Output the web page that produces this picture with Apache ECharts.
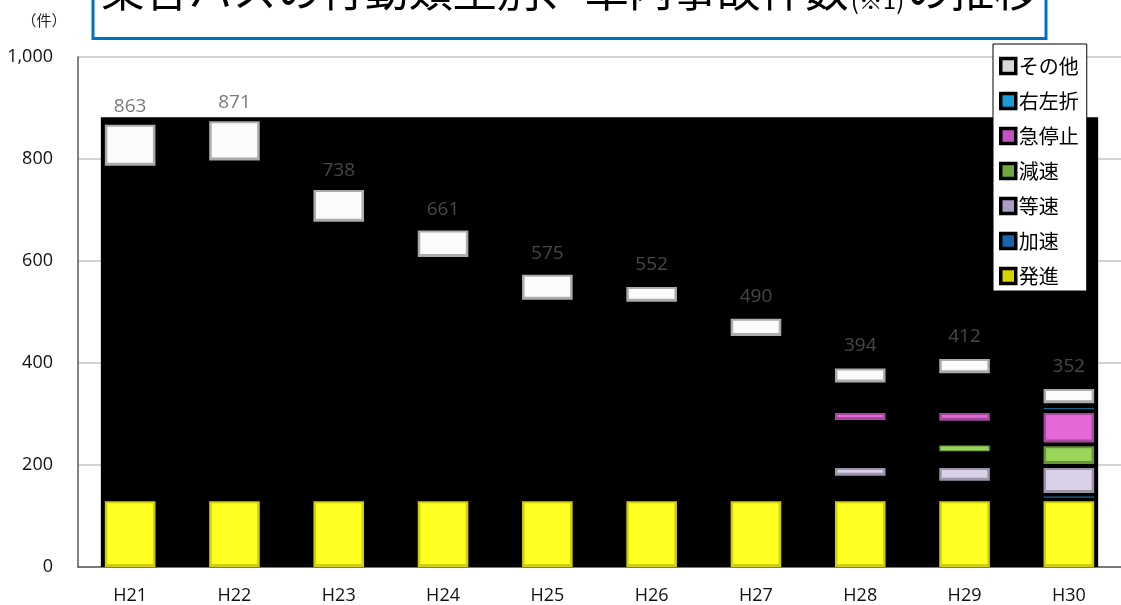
<!DOCTYPE html>
<html>
<head>
<meta charset="utf-8">
<script src="https://cdn.jsdelivr.net/npm/echarts@6/dist/echarts.min.js"></script>
<style>
html,body{margin:0;padding:0;background:#fff;}
#chart{width:1121px;height:605px;}
</style>
</head>
<body>
<div id="chart"></div>
<script>
// ---- data ----
const categories = ['H21','H22','H23','H24','H25','H26','H27','H28','H29','H30'];
const totals = [863, 871, 738, 661, 575, 552, 490, 394, 412, 352];
const yTicks = [0, 200, 400, 600, 800, 1000];
// visible extent [low, high] of each block (in 件), per category; null = not shown
const hasshin   = [[0,129],[0,129],[0,129],[0,129],[0,129],[0,129],[0,129],[0,129],[0,129],[0,129]];
const kasoku    = [null,null,null,null,null,null,null,null,null,[135.5,138.5]];
const tousoku   = [null,null,null,null,null,null,null,[179,194],[169,194],[145,194]];
const gensoku   = [null,null,null,null,null,null,null,null,[227,238],[202,237]];
const kyuteishi = [null,null,null,null,null,null,null,[288,302],[287,302],[244,302]];
const usasetsu  = [null,null,null,null,null,null,null,null,null,[309.5,312]];
const sonota    = [[787,867],[797,874],[677,739],[608,660],[524,573],[520,549],[453,487],[362,389],[380,408],[321,349]];
const panelTop = 882; // top of the dark panel behind the bars

// ---- styling ----
const seriesDefs = [
  {name:'発進',   data:hasshin,   fill:'#FFFF22', edge:'#CFCF10', icon:'#D4D400'},
  {name:'加速',   data:kasoku,    fill:'#1B5C8C', edge:'#17476A', icon:'#1565B0'},
  {name:'等速',   data:tousoku,   fill:'#DAD1E9', edge:'#9C94A8', icon:'#A99BC4'},
  {name:'減速',   data:gensoku,   fill:'#99D45B', edge:'#66923A', icon:'#6FA83E'},
  {name:'急停止', data:kyuteishi, fill:'#E468D8', edge:'#A44A9C', icon:'#C452C0'},
  {name:'右左折', data:usasetsu,  fill:'#1F7FA8', edge:'#1A6488', icon:'#1A9CD8'},
  {name:'その他', data:sonota,    fill:'#FBFBFB', edge:'#ABABAB', icon:'#D8D8D8'}
];

function boxRenderer(fill, edge) {
  return function (params, api) {
    const x = api.value(0);
    const p0 = api.coord([x, api.value(1)]);
    const p1 = api.coord([x, api.value(2)]);
    const w = api.size([1, 0])[0] * 0.485;
    const left = p0[0] - w / 2;
    const top = p1[1];
    const h = p0[1] - p1[1];
    const children = [{type:'rect', shape:{x:left, y:top, width:w, height:h}, style:{fill:edge}}];
    if (h > 6) {
      children.push({type:'rect', shape:{x:left + 2.5, y:top + 2, width:w - 5, height:h - 5}, style:{fill:fill}});
    } else if (h > 2.5) {
      children.push({type:'rect', shape:{x:left + 1.5, y:top + 0.8, width:w - 3, height:h - 1.8}, style:{fill:fill}});
    }
    return {type:'group', children:children};
  };
}

const series = [];
// dark panel spanning from first to last category
series.push({
  type:'custom', name:'panel', z:1, silent:true,
  data:[[0, categories.length - 1, 0, panelTop]],
  encode:{x:[0,1], y:[2,3]},
  renderItem:function (params, api) {
    const a = api.coord([api.value(0), api.value(2)]);
    const b = api.coord([api.value(1), api.value(3)]);
    const half = api.size([1, 0])[0] * 0.485 / 2 + 4;
    return {type:'rect', shape:{x:a[0] - half, y:b[1], width:(b[0] - a[0]) + 2 * half, height:a[1] - b[1]}, style:{fill:'#000'}};
  }
});
seriesDefs.forEach(function (d) {
  const rows = [];
  d.data.forEach(function (r, i) { if (r) rows.push([i, r[0], r[1]]); });
  series.push({
    type:'custom', name:d.name, z:3, silent:true,
    itemStyle:{color:d.icon},
    data:rows,
    encode:{x:0, y:[1,2]},
    renderItem:boxRenderer(d.fill, d.edge)
  });
});
// total labels
series.push({
  type:'scatter', name:'合計', z:5, silent:true,
  data:totals, symbolSize:0,
  label:{show:true, position:'top', distance:11, color:'#595959', fontSize:19, fontFamily:'Open Sans'}
});

const legendOrder = ['その他','右左折','急停止','減速','等速','加速','発進'];

const chart = echarts.init(document.getElementById('chart'), null, {renderer:'canvas'});
chart.setOption({
  animation:false,
  backgroundColor:'#fff',
  grid:{left:78, top:57, width:1051, height:511.5, containLabel:false},
  xAxis:{
    type:'category', data:categories, boundaryGap:true,
    axisLine:{show:true, lineStyle:{color:'#595959', width:1.5}},
    axisTick:{show:false},
    axisLabel:{margin:20, fontSize:18, fontFamily:'Open Sans', color:'#111'},
    splitLine:{show:false}
  },
  yAxis:{
    type:'value', min:yTicks[0], max:yTicks[yTicks.length - 1], interval:yTicks[1] - yTicks[0],
    axisLine:{show:true, lineStyle:{color:'#595959', width:1.5}},
    axisTick:{show:false},
    axisLabel:{margin:25, fontSize:18, fontFamily:'Open Sans', color:'#111',
      formatter:function (v) { return v.toLocaleString('en-US'); }},
    splitLine:{show:true, lineStyle:{color:'#D4D4D4', width:2}}
  },
  legend:{
    orient:'vertical', left:993, top:44,
    backgroundColor:'#fff', borderColor:'#000', borderWidth:1,
    padding:[12, 8, 5, 6],
    icon:'rect', itemWidth:15, itemHeight:15, itemGap:15,
    selectedMode:false,
    textStyle:{fontSize:20, lineHeight:20, fontFamily:'Noto Sans CJK JP', color:'#000', padding:[0,0,0,-2]},
    data:legendOrder.map(function (n) {
      const d = seriesDefs.find(function (s) { return s.name === n; });
      return {name:n, itemStyle:{color:d.icon, borderColor:'#000', borderWidth:3.5}};
    })
  },
  graphic:[
    {type:'rect', z:10, shape:{x:93, y:-12, width:953, height:50.5}, style:{fill:'#fff', stroke:'#0070C0', lineWidth:3}},
    {type:'text', z:11, x:569.5, y:-10,
      style:{
        text:'乗合バスの行動類型別、車内事故件数{s|(※1)}の推移',
        align:'center', verticalAlign:'middle',
        fontSize:44, fontFamily:'Noto Sans CJK JP', fill:'#000',
        rich:{s:{fontSize:24, fontFamily:'Noto Sans CJK JP', fill:'#000', verticalAlign:'bottom', padding:[0,2,0,2]}}
      }},
    {type:'text', z:11, x:44, y:20,
      style:{text:'（件）', align:'center', verticalAlign:'middle', fontSize:15, fontFamily:'Noto Sans CJK JP', fill:'#222'}}
  ],
  series:series
});
</script>
</body>
</html>
